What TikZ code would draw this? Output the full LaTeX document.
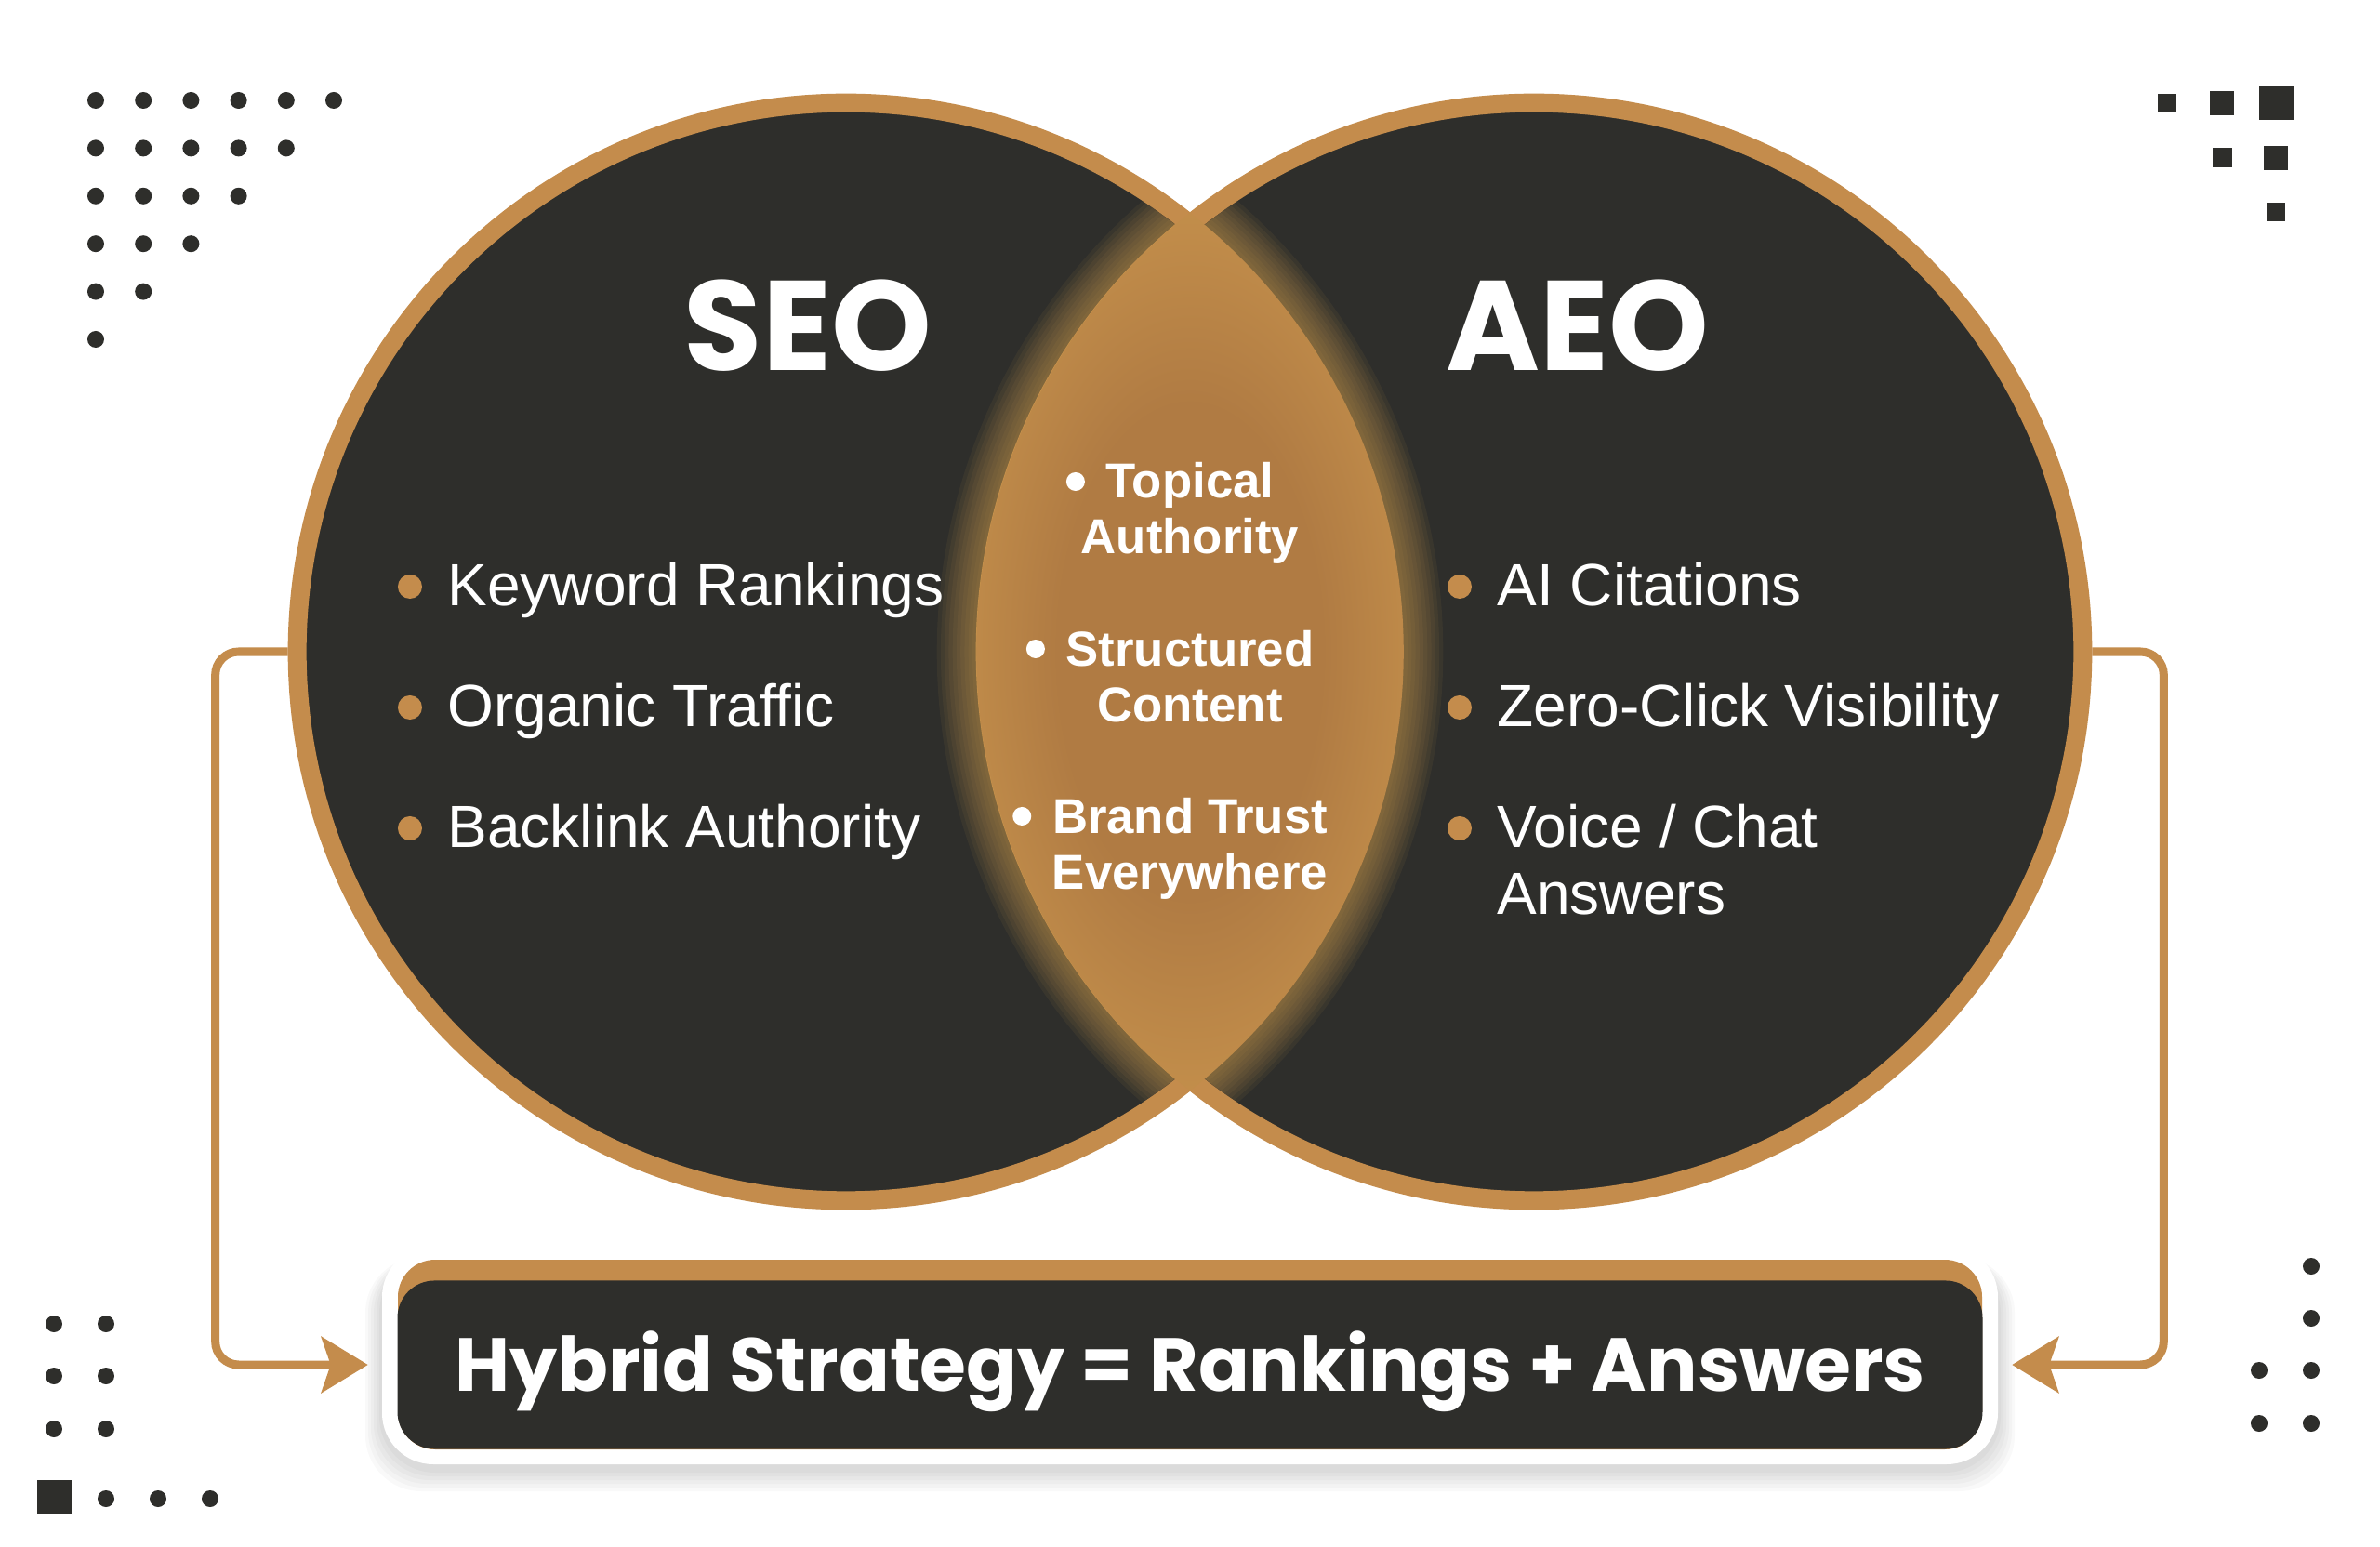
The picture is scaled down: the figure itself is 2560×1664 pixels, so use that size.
\documentclass[tikz,border=0pt]{standalone}
\usepackage{fontspec}
\setmainfont{Liberation Sans}
\newfontfamily\popfont{Poppins}
\usetikzlibrary{arrows.meta}

\definecolor{darkbg}{HTML}{2E2E2B}
\definecolor{ringgold}{HTML}{C48C4C}
\definecolor{lensout}{HTML}{D4A052}
\definecolor{lensin}{HTML}{B07B43}
\pgfdeclareradialshading{lensgrad}{\pgfpoint{0bp}{0bp}}{color(0bp)=(lensin); color(14bp)=(lensin); color(36bp)=(lensout); color(50bp)=(lensout)}

\tikzset{
  venn/.style={circle, draw=ringgold, line width=0.2cm, fill=darkbg, minimum size=11.8cm, inner sep=0pt},
  title/.style={text=white, inner sep=0pt, font=\popfont\bfseries\fontsize{39}{44}\selectfont},
  item/.style={text=white, anchor=base west, inner sep=0pt, font=\fontsize{18.2}{21}\selectfont},
  lensline/.style={text=white, anchor=base, inner sep=0pt, font=\bfseries\fontsize{15}{17}\selectfont},
  hybridbox/.style={fill=darkbg, rounded corners=0.4cm, minimum width=17.04cm, minimum height=1.81cm},
  hybridtext/.style={text=white, inner sep=0pt, font=\popfont\bfseries\fontsize{23}{27}\selectfont},
  link/.style={draw=ringgold, line width=0.09cm, rounded corners=0.25cm, shorten >=0.31cm,
    -{Stealth[length=0.5cm, width=0.6cm, inset=0.1cm]}},
  dot/.style={fill=darkbg},
}

\begin{document}
\begin{tikzpicture}[x=0.01cm, y=-0.01cm]
	% image coordinates: 1 unit = 1 px, y grows downwards
	\useasboundingbox (0,0) rectangle (2560,1664);
	\fill[white] (0,0) rectangle (2560,1664);

	% corner decorations
	\foreach \row in {0,...,5}{
		\pgfmathtruncatemacro\last{5-\row}
		\foreach \col in {0,...,\last}
			\fill[dot] ({103+51.2*\col},{108+51.4*\row}) circle (9);
	}
	\foreach \x/\y/\s in {2331/111/20, 2390/111/26, 2448/111/37, 2390/170/21, 2448/170/26, 2448/228/20}
		\fill[dot] ({\x-\s/2},{\y-\s/2}) rectangle ++(\s,\s);
	\foreach \x/\y in {58/1424, 114/1424, 58/1480, 114/1480, 58/1537, 114/1537, 114/1612, 170/1612, 226/1612}
		\fill[dot] (\x,\y) circle (9);
	\fill[dot] (40,1592) rectangle (77,1629);
	\foreach \x/\y in {2486/1362, 2486/1418, 2430/1474, 2486/1474, 2430/1531, 2486/1531}
		\fill[dot] (\x,\y) circle (9);

	% bottom box with soft shadow
	\foreach \s in {1,...,6}
		\fill[black, opacity=0.025, rounded corners=0.6cm] ({411-\s*3},1352) rectangle ({2149+\s*3},{1580+\s*4});
	\fill[white, rounded corners=0.55cm] (411,1340) rectangle (2149,1575);
	\fill[ringgold, rounded corners=0.4cm] (428,1355) rectangle (2132,1559);
	\node[hybridbox] (hybrid) at (1280,1468) {};
	\node[hybridtext] (hybridlabel) at (1280,1475) {Hybrid Strategy = Rankings + Answers};

	% the two circles
	\node[venn] (seo) at (910,701) {};
	\node[venn] (aeo) at (1650,701) {};

	\draw[link] (seo.west) -- ++(-78,0) |- (hybrid.west);
	\draw[link] (aeo.east) -- ++(77,0) |- (hybrid.east);

	% glow round the overlap
	\begin{scope}
		\clip (seo.center) circle (580) (aeo.center) circle (580);
		\foreach \w in {10,...,1}
			\draw[lensout, opacity=0.07, line width={\w*0.085cm}]
				(1280,229) arc[start angle=-51.9, end angle=51.9, radius=600]
				arc[start angle=128.1, end angle=231.9, radius=600] -- cycle;
	\end{scope}
	\shade[shading=lensgrad] (1280,229) arc[start angle=-51.9, end angle=51.9, radius=600]
		arc[start angle=128.1, end angle=231.9, radius=600] -- cycle;

	% titles
	\node[title] (seotitle) at (869,350) {SEO};
	\node[title] (aeotitle) at (1697,350) {AEO};

	% items
	\node[item] (keyword) at (481,651) {Keyword Rankings};
	\node[item] (organic) at (481,781) {Organic Traffic};
	\node[item] (backlink) at (481,911) {Backlink Authority};
	\node[item] (citations) at (1610,651) {AI Citations};
	\node[item] (zeroclick) at (1610,781) {Zero-Click Visibility};
	\node[item] (voice) at (1610,911) {Voice / Chat};
	\node[item] (answers) at (1610,983) {Answers};
	\foreach \n in {keyword,organic,backlink,citations,zeroclick,voice}
		\fill[ringgold] ([xshift=-0.4cm,yshift=0.2cm]\n.base west) circle (13);

	\node[lensline] (topical) at (1280,536) {Topical};
	\node[lensline] (authority) at (1280,596) {Authority};
	\node[lensline] (structured) at (1280,716) {Structured};
	\node[lensline] (content) at (1280,776) {Content};
	\node[lensline] (brand) at (1280,896) {Brand Trust};
	\node[lensline] (everywhere) at (1280,956) {Everywhere};
	\foreach \n in {topical,structured,brand}
		\fill[white] ([xshift=-0.32cm,yshift=0.18cm]\n.base west) circle (10);

\end{tikzpicture}
\end{document}
